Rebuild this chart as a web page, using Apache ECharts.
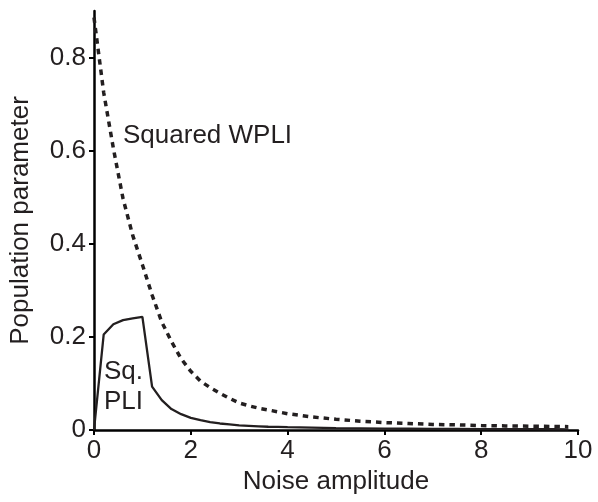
<!DOCTYPE html>
<html>
<head>
<meta charset="utf-8">
<script src="https://cdn.jsdelivr.net/npm/echarts@6/dist/echarts.min.js"></script>
<style>
  html, body { margin: 0; padding: 0; background: #fff; }
  #chart { width: 598px; height: 502px; }
</style>
</head>
<body>
<div id="chart"></div>
<script>
// noise amplitude samples
var noiseAmp = [0, 0.2, 0.4, 0.6, 0.8, 1.0, 1.2, 1.4, 1.6, 1.8, 2.0, 2.2, 2.4, 2.6, 2.8, 3.0,
  3.2, 3.4, 3.6, 3.8, 4.0, 4.5, 5.0, 5.5, 6.0, 6.5, 7.0, 7.5, 8.0, 8.5, 9.0, 9.5, 9.8];

// squared WPLI (dotted)
var sqWpli = [0.886, 0.725, 0.605, 0.497, 0.418, 0.355, 0.29, 0.232, 0.19, 0.153, 0.126, 0.105,
  0.091, 0.079, 0.068, 0.058, 0.052, 0.047, 0.043, 0.039, 0.035, 0.028, 0.023, 0.019, 0.016,
  0.014, 0.012, 0.011, 0.0095, 0.0088, 0.0082, 0.0076, 0.0072];

// squared PLI (solid)
var sqPli = [0, 0.205, 0.227, 0.236, 0.240, 0.243, 0.093, 0.064, 0.045, 0.034, 0.026, 0.021,
  0.017, 0.014, 0.012, 0.010, 0.009, 0.008, 0.007, 0.0065, 0.006, 0.005, 0.004, 0.0035, 0.003,
  0.0027, 0.0024, 0.0022, 0.002, 0.0018, 0.0017, 0.0016, 0.0015];

var xTicks = [0, 2, 4, 6, 8, 10];
var yTicks = [0, 0.2, 0.4, 0.6, 0.8];

function pairs(xs, ys) {
  return xs.map(function (x, i) { return [x, ys[i]]; });
}

var ink = '#231f20';
var font = 'Liberation Sans';
var fs = 26;

var myChart = echarts.init(document.getElementById('chart'));

var option = {
  animation: false,
  grid: {
    left: 93,
    right: 20,
    top: 11,
    bottom: 72
  },
  xAxis: {
    type: 'value',
    min: 0,
    max: 10,
    interval: 2,
    name: 'Noise amplitude',
    nameLocation: 'middle',
    nameGap: 34,
    nameTextStyle: { fontFamily: font, fontSize: fs, color: ink },
    axisLine: { lineStyle: { color: '#000', width: 2.5 } },
    axisTick: { show: true, length: 5, lineStyle: { color: '#000', width: 2 }, customValues: xTicks },
    axisLabel: { fontFamily: font, fontSize: fs, color: ink, margin: 8, customValues: xTicks },
    splitLine: { show: false }
  },
  yAxis: {
    type: 'value',
    min: 0,
    max: 0.9,
    interval: 0.2,
    name: 'Population parameter',
    nameLocation: 'middle',
    nameGap: 60,
    nameTextStyle: { fontFamily: font, fontSize: fs, color: ink },
    axisLine: { show: true, lineStyle: { color: '#000', width: 2.5 } },
    axisTick: { show: true, length: 5, lineStyle: { color: '#000', width: 2 }, customValues: yTicks },
    axisLabel: { fontFamily: font, fontSize: fs, color: ink, margin: 8, customValues: yTicks },
    splitLine: { show: false }
  },
  graphic: [
    { type: 'text', left: 123, top: 121, style: { text: 'Squared WPLI', font: fs + 'px ' + font, fill: ink, lineHeight: 30 } },
    { type: 'text', left: 104, top: 357, style: { text: 'Sq.\nPLI', font: fs + 'px ' + font, fill: ink, lineHeight: 30 } }
  ],
  series: [
    {
      name: 'Squared WPLI',
      type: 'line',
      data: pairs(noiseAmp, sqWpli),
      symbol: 'none',
      lineStyle: { color: ink, width: 3.5, type: [5.5, 5], cap: 'butt' }
    },
    {
      name: 'Sq. PLI',
      type: 'line',
      data: pairs(noiseAmp, sqPli),
      symbol: 'none',
      lineStyle: { color: ink, width: 2.3 }
    }
  ]
};

myChart.setOption(option);
</script>
</body>
</html>
